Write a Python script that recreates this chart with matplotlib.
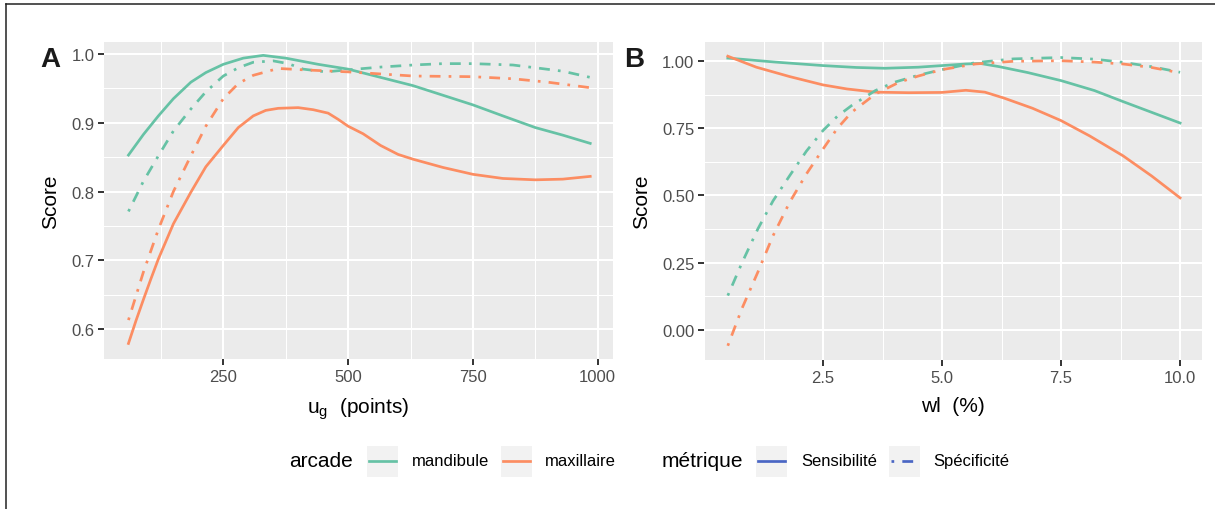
import numpy as np
import matplotlib
matplotlib.use('Agg')
import matplotlib.pyplot as plt
from matplotlib.lines import Line2D
from matplotlib.patches import Rectangle
from matplotlib.ticker import MultipleLocator

plt.rcParams['font.family'] = ['Liberation Sans', 'DejaVu Sans']
plt.rcParams['mathtext.fontset'] = 'custom'
plt.rcParams['mathtext.rm'] = 'Liberation Sans'

# ---- panel A : u_g (points)
a_mand_sens_x = [60, 90, 120, 150, 185, 215, 250, 290, 330, 375, 440, 500, 565, 630, 690, 750, 810, 875, 930, 985]
a_mand_sens_y = [0.853, 0.883, 0.910, 0.935, 0.959, 0.973, 0.985, 0.994, 0.998, 0.994, 0.985, 0.978, 0.966,
                 0.954, 0.940, 0.926, 0.910, 0.893, 0.882, 0.870]
a_mand_spec_x = [60, 90, 120, 150, 185, 215, 250, 280, 310, 350, 380, 410, 455, 500, 565, 630, 690, 750, 830, 875, 930, 985]
a_mand_spec_y = [0.771, 0.815, 0.852, 0.888, 0.920, 0.945, 0.968, 0.980, 0.988, 0.990, 0.986, 0.978, 0.974,
                 0.977, 0.981, 0.984, 0.986, 0.986, 0.984, 0.980, 0.975, 0.966]
a_maxi_sens_x = [60, 75, 90, 105, 120, 150, 185, 215, 250, 280, 310, 335, 360, 400, 430, 460, 480, 500, 530, 565,
                 600, 630, 690, 750, 810, 875, 930, 985]
a_maxi_sens_y = [0.579, 0.612, 0.643, 0.673, 0.702, 0.753, 0.799, 0.836, 0.867, 0.893, 0.910, 0.918, 0.921, 0.922,
                 0.919, 0.914, 0.905, 0.895, 0.884, 0.867, 0.854, 0.847, 0.835, 0.825, 0.819, 0.817, 0.818, 0.822]
a_maxi_spec_x = [60, 90, 120, 150, 185, 215, 250, 280, 310, 360, 410, 500, 565, 630, 750, 830, 900, 985]
a_maxi_spec_y = [0.613, 0.683, 0.745, 0.800, 0.852, 0.895, 0.935, 0.957, 0.969, 0.979, 0.977, 0.974, 0.971,
                 0.968, 0.967, 0.964, 0.959, 0.951]

# ---- panel B : wl (%)
b_mand_sens_x = [0.5, 1.5, 2.5, 3.2, 3.8, 4.5, 5.0, 5.5, 5.8, 6.2, 6.8, 7.5, 8.2, 8.8, 9.4, 10.0]
b_mand_sens_y = [1.012, 0.997, 0.984, 0.977, 0.974, 0.978, 0.984, 0.990, 0.992, 0.980, 0.958, 0.928, 0.891,
                 0.850, 0.810, 0.770]
b_maxi_sens_x = [0.5, 1.1, 1.8, 2.5, 3.0, 3.6, 4.3, 5.0, 5.5, 5.9, 6.3, 6.9, 7.5, 8.1, 8.8, 9.4, 10.0]
b_maxi_sens_y = [1.019, 0.978, 0.943, 0.912, 0.897, 0.885, 0.883, 0.884, 0.892, 0.885, 0.863, 0.825, 0.779,
                 0.722, 0.648, 0.573, 0.491]
b_mand_spec_x = [0.5, 0.8, 1.13, 1.45, 1.8, 2.15, 2.5, 2.8, 3.1, 3.6, 4.0, 4.5, 5.0, 5.7, 6.5, 7.5, 8.2, 8.8, 9.4, 10.0]
b_mand_spec_y = [0.127, 0.250, 0.375, 0.480, 0.574, 0.665, 0.742, 0.795, 0.835, 0.891, 0.922, 0.948, 0.969,
                 0.995, 1.009, 1.014, 1.008, 0.996, 0.980, 0.959]
b_maxi_spec_x = [0.5, 0.8, 1.13, 1.45, 1.8, 2.15, 2.5, 2.8, 3.1, 3.6, 4.1, 4.5, 5.0, 5.7, 6.5, 7.5, 8.2, 8.8, 9.4, 10.0]
b_maxi_spec_y = [-0.060, 0.080, 0.214, 0.350, 0.475, 0.580, 0.673, 0.750, 0.810, 0.878, 0.922, 0.945, 0.969,
                 0.990, 1.000, 1.002, 0.997, 0.990, 0.977, 0.957]

arcade_labels = ['mandibule', 'maxillaire']
metric_labels = ['Sensibilité', 'Spécificité']

GREEN = '#66C2A5'
ORANGE = '#FC8D62'
BLUE = '#4A66C4'
DOTDASH = (1, 3, 4, 3)
LW = 1.95

W, H = 1215, 510
fig = plt.figure(figsize=(W / 100, H / 100), dpi=100)


def fx(px):
    return px / W


def fy(py):
    return 1 - py / H


def style_axes(ax, xlim, ylim, xmaj, xmin, ymaj, ymin, fmt):
    ax.set_facecolor('#EBEBEB')
    for s in ax.spines.values():
        s.set_visible(False)
    ax.set_xlim(*xlim)
    ax.set_ylim(*ylim)
    ax.xaxis.set_major_locator(MultipleLocator(xmaj))
    ax.xaxis.set_minor_locator(MultipleLocator(xmin))
    ax.yaxis.set_major_locator(MultipleLocator(ymaj))
    ax.yaxis.set_minor_locator(MultipleLocator(ymin))
    ax.yaxis.set_major_formatter(fmt)
    ax.grid(which='major', color='white', linewidth=1.5)
    ax.grid(which='minor', color='white', linewidth=0.75)
    ax.set_axisbelow(True)
    ax.tick_params(which='major', length=4, width=1.4, color='#333333', labelcolor='#4D4D4D',
                   labelsize=12, pad=3)
    ax.tick_params(which='minor', length=0)
    ax.set_ylabel('Score', fontsize=15, labelpad=8)


axA = fig.add_axes([fx(104), fy(360), fx(612.7 - 104), (360 - 42.7) / H])
style_axes(axA, (11, 1030), (0.5564, 1.0179), 250, 125, 0.1, 0.05, '{x:.1f}')
axA.set_xticks([250, 500, 750, 1000])
axA.plot(a_mand_sens_x, a_mand_sens_y, color=GREEN, lw=LW)
axA.plot(a_maxi_sens_x, a_maxi_sens_y, color=ORANGE, lw=LW)
axA.plot(a_mand_spec_x, a_mand_spec_y, color=GREEN, lw=LW, dashes=DOTDASH)
axA.plot(a_maxi_spec_x, a_maxi_spec_y, color=ORANGE, lw=LW, dashes=DOTDASH)
axA.set_xlabel(r'u$_{\mathregular{g}}$  (points)', fontsize=15, labelpad=8)

axB = fig.add_axes([fx(704), fy(361), fx(1202 - 704), (361 - 42.7) / H])
style_axes(axB, (0.0, 10.46), (-0.113, 1.073), 2.5, 1.25, 0.25, 0.125, '{x:.2f}')
axB.xaxis.set_major_formatter('{x:.1f}')
axB.set_xticks([2.5, 5.0, 7.5, 10.0])
axB.plot(b_mand_sens_x, b_mand_sens_y, color=GREEN, lw=LW)
axB.plot(b_maxi_sens_x, b_maxi_sens_y, color=ORANGE, lw=LW)
axB.plot(b_mand_spec_x, b_mand_spec_y, color=GREEN, lw=LW, dashes=DOTDASH)
axB.plot(b_maxi_spec_x, b_maxi_spec_y, color=ORANGE, lw=LW, dashes=DOTDASH)
axB.set_xlabel('wl  (%)', fontsize=15, labelpad=8)

# panel tags
fig.text(fx(40), fy(67), 'A', fontsize=20, fontweight='bold', color='#1A1A1A', va='baseline')
fig.text(fx(624), fy(67), 'B', fontsize=20, fontweight='bold', color='#1A1A1A', va='baseline')

# frame around the figure (left + top)
fig.add_artist(Line2D([fx(6), fx(6)], [fy(4.7), 0], color='#222222', lw=1.1))
fig.add_artist(Line2D([fx(6), 1], [fy(4.7), fy(4.7)], color='#222222', lw=1.1))

# legend, ggplot-style: title on the left, grey key boxes
ly = 462
def key(x0, color, dashes=None):
    fig.add_artist(Rectangle((fx(x0), fy(ly + 15.5)), fx(31), 31 / H, facecolor='#F2F2F2',
                             edgecolor='none', transform=fig.transFigure))
    ln = Line2D([fx(x0 + 2), fx(x0 + 29)], [fy(ly), fy(ly)], color=color, lw=LW)
    if dashes:
        ln.set_dashes(dashes)
    fig.add_artist(ln)

fig.text(fx(289), fy(ly), 'arcade', fontsize=15, va='center')
key(367, GREEN)
fig.text(fx(412), fy(ly), arcade_labels[0], fontsize=12, va='center')
key(501, ORANGE)
fig.text(fx(545), fy(ly), arcade_labels[1], fontsize=12, va='center')
fig.text(fx(662), fy(ly), 'métrique', fontsize=15, va='center')
key(756, BLUE)
fig.text(fx(801), fy(ly), metric_labels[0], fontsize=12, va='center')
key(889, BLUE, DOTDASH)
fig.text(fx(933), fy(ly), metric_labels[1], fontsize=12, va='center')

fig.savefig('out.png', dpi=100)
